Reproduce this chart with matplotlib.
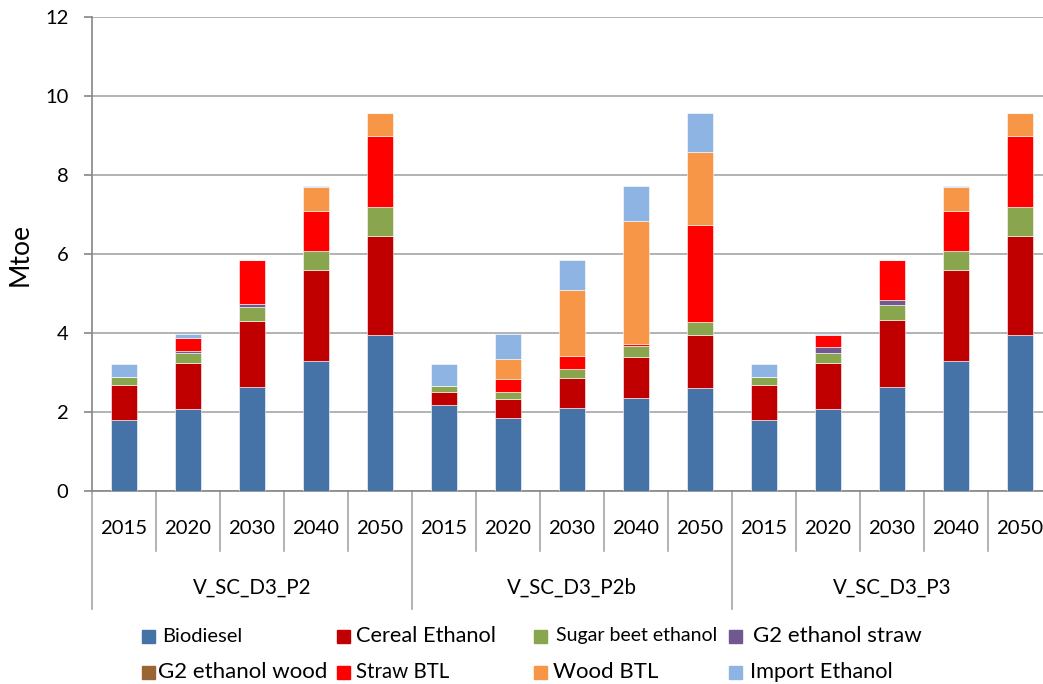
import numpy as np
import matplotlib
matplotlib.use("Agg")
import matplotlib.pyplot as plt
from matplotlib.patches import Rectangle
import matplotlib.transforms as mtransforms

plt.rcParams['font.family'] = ['Lato', 'DejaVu Sans']

groups = ["V_SC_D3_P2", "V_SC_D3_P2b", "V_SC_D3_P3"]
years = ["2015", "2020", "2030", "2040", "2050"]

series = ["Biodiesel", "Cereal Ethanol", "Sugar beet ethanol", "G2 ethanol straw",
          "G2 ethanol wood", "Straw BTL", "Wood BTL", "Import Ethanol"]
colors = ["#4572A7", "#C00000", "#89A54E", "#71588F",
          "#996633", "#FF0000", "#F79646", "#8EB4E3"]

# values per series, 15 bars (3 scenarios x 5 years)
biodiesel = [1.80, 2.08, 2.63, 3.29, 3.95,
             2.17, 1.86, 2.11, 2.35, 2.61,
             1.80, 2.08, 2.63, 3.29, 3.95]
cereal = [0.89, 1.17, 1.68, 2.30, 2.51,
          0.34, 0.47, 0.75, 1.03, 1.33,
          0.89, 1.17, 1.71, 2.30, 2.51]
sugar_beet = [0.19, 0.25, 0.36, 0.49, 0.73,
              0.16, 0.17, 0.23, 0.29, 0.34,
              0.19, 0.25, 0.36, 0.49, 0.73]
g2_straw = [0.0, 0.05, 0.06, 0.0, 0.0,
            0.0, 0.0, 0.0, 0.0, 0.0,
            0.0, 0.14, 0.14, 0.0, 0.0]
g2_wood = [0.0] * 15
straw_btl = [0.0, 0.33, 1.11, 1.02, 1.80,
             0.0, 0.33, 0.32, 0.06, 2.45,
             0.0, 0.31, 1.00, 1.02, 1.80]
wood_btl = [0.0, 0.0, 0.0, 0.59, 0.59,
            0.0, 0.50, 1.68, 3.11, 1.84,
            0.0, 0.0, 0.0, 0.59, 0.59]
import_eth = [0.34, 0.09, 0.0, 0.03, 0.0,
              0.55, 0.64, 0.75, 0.87, 1.01,
              0.34, 0.03, 0.0, 0.03, 0.0]

data = [biodiesel, cereal, sugar_beet, g2_straw, g2_wood, straw_btl, wood_btl, import_eth]

W, H = 1043, 684
fig = plt.figure(figsize=(W / 100, H / 100), dpi=100)
ax_left, ax_right, ax_top, ax_bot = 92, 1052, 17, 491
ax = fig.add_axes([ax_left / W, 1 - ax_bot / H, (ax_right - ax_left) / W, (ax_bot - ax_top) / H])

x = np.arange(15)
bottom = np.zeros(15)
for vals, col in zip(data, colors):
    vals = np.array(vals)
    ax.bar(x, vals, 0.41, bottom=bottom, color=col, edgecolor="white", linewidth=0.4, zorder=3)
    bottom += vals

ax.set_xlim(-0.5, 14.5)
ax.set_ylim(0, 12)
ax.set_yticks(range(0, 13, 2))
ax.tick_params(axis='y', labelsize=14.5, length=6, width=1.2, color="#868686", pad=11)
ax.set_xticks([])
ax.grid(axis='y', color="#A6A6A6", linewidth=1.2, zorder=0)
for s in ["top", "right"]:
    ax.spines[s].set_visible(False)
for s in ["left", "bottom"]:
    ax.spines[s].set_color("#868686")
    ax.spines[s].set_linewidth(1.2)
ax.set_ylabel("Mtoe", fontsize=19, labelpad=9)

# multi-level category axis
axis_h = ax_bot - ax_top
trans = mtransforms.blended_transform_factory(ax.transData, ax.transAxes)
sep_color = "#A6A6A6"
for i in range(16):
    depth = -118 / axis_h if i % 5 == 0 else -60 / axis_h
    ax.plot([i - 0.5, i - 0.5], [0, depth], transform=trans, color=sep_color,
            linewidth=1.2, clip_on=False)
for i in range(15):
    ax.text(i, -38 / axis_h, years[i % 5], transform=trans, ha='center', va='center',
            fontsize=14.6)
for g, name in enumerate(groups):
    ax.text(g * 5 + 2, -97 / axis_h, name, transform=trans, ha='center', va='center',
            fontsize=14.8)

# legend drawn manually to match layout
marker_x = [142, 337, 534, 729]
text_x = [[162, 356, 556, 753], [158, 356, 553, 750]]
leg_y = [636, 672]
leg_sizes = [14.5, 15.7, 14, 16, 16, 14.8, 16, 15.7]
for k, (name, col) in enumerate(zip(series, colors)):
    r, c = divmod(k, 4)
    py = leg_y[r]
    fig.add_artist(Rectangle((marker_x[c] / W, 1 - (py + 6.5) / H), 13 / W, 13 / H,
                             transform=fig.transFigure, color=col))
    fig.text(text_x[r][c] / W, 1 - py / H, name, fontsize=leg_sizes[k], va='center', ha='left')

fig.savefig("out.png", dpi=100)
